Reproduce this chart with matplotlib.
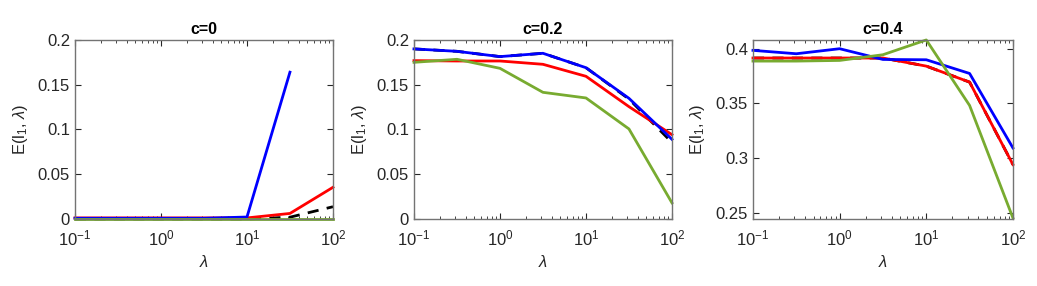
import numpy as np
import matplotlib
matplotlib.use("Agg")
import matplotlib.pyplot as plt
from matplotlib.ticker import LogLocator, FixedLocator, NullFormatter

plt.rcParams['font.family'] = ['Liberation Sans', 'DejaVu Sans']
plt.rcParams['mathtext.fontset'] = 'custom'
plt.rcParams['mathtext.rm'] = 'Liberation Sans'
plt.rcParams['mathtext.it'] = 'Liberation Sans:italic'

lam = [0.1, 0.316, 1, 3.16, 10, 31.6, 100]
titles = ['c=0', 'c=0.2', 'c=0.4']

# c = 0
black_c0 = [0.0, 0.0, 0.0, 0.0, 0.0, 0.002, 0.0137]
red_c0 = [0.0012, 0.0012, 0.0012, 0.0012, 0.0012, 0.0062, 0.0354]
blue_c0 = [0.0008, 0.0008, 0.0008, 0.0008, 0.0022, 0.164, np.nan]
green_c0 = [0.0, 0.0, 0.0, 0.0, 0.0, 0.0, 0.0]

# c = 0.2
black_c02 = [0.190, 0.1873, 0.1814, 0.1851, 0.169, 0.134, 0.0855]
red_c02 = [0.1769, 0.1765, 0.1765, 0.1728, 0.1594, 0.1255, 0.0942]
blue_c02 = [0.190, 0.1873, 0.1814, 0.1851, 0.169, 0.1348, 0.089]
green_c02 = [0.175, 0.1784, 0.1683, 0.1415, 0.1352, 0.1006, 0.018]

# c = 0.4
black_c04 = [0.3915, 0.3915, 0.3915, 0.3915, 0.3841, 0.3695, 0.2942]
red_c04 = [0.3915, 0.3915, 0.3915, 0.3915, 0.3841, 0.3695, 0.2942]
blue_c04 = [0.3985, 0.3954, 0.400, 0.3902, 0.3899, 0.3774, 0.3094]
green_c04 = [0.3887, 0.3887, 0.3893, 0.3945, 0.408, 0.3482, 0.2454]

series = [
    (black_c0, red_c0, blue_c0, green_c0),
    (black_c02, red_c02, blue_c02, green_c02),
    (black_c04, red_c04, blue_c04, green_c04),
]
ylims = [(0, 0.2), (0, 0.2), (0.2445, 0.408)]
yticks = [[0, 0.05, 0.1, 0.15, 0.2], [0, 0.05, 0.1, 0.15, 0.2], [0.25, 0.3, 0.35, 0.4]]
ylabels = [['0', '0.05', '0.1', '0.15', '0.2'], ['0', '0.05', '0.1', '0.15', '0.2'],
           ['0.25', '0.3', '0.35', '0.4']]

axcol = (0.15, 0.15, 0.15)
green = (0.47, 0.67, 0.19)

fig = plt.figure(figsize=(10.37, 2.86), dpi=100)
lefts = [0.0723, 0.3992, 0.7261]
widths = [0.2488, 0.2488, 0.2507]

for i in range(3):
    ax = fig.add_axes([lefts[i], 0.2343, widths[i], 0.626])
    blk, red, blu, grn = series[i]
    ax.plot(lam, blk, color='k', ls='--', lw=2, dashes=(4, 3), clip_on=False)
    ax.plot(lam, red, color='r', lw=2, clip_on=False)
    ax.plot(lam, blu, color='b', lw=2, clip_on=False)
    ax.plot(lam, grn, color=green, lw=2, clip_on=False)
    ax.set_xscale('log')
    ax.set_xlim(0.1, 100)
    ax.set_ylim(*ylims[i])
    ax.set_yticks(yticks[i])
    ax.set_yticklabels(ylabels[i])
    ax.xaxis.set_major_locator(FixedLocator([0.1, 1, 10, 100]))
    ax.xaxis.set_minor_locator(LogLocator(base=10, subs=np.arange(2, 10)))
    ax.xaxis.set_minor_formatter(NullFormatter())
    ax.set_xticklabels(['$10^{-1}$', '$10^{0}$', '$10^{1}$', '$10^{2}$'])
    ax.tick_params(direction='in', top=True, right=True, which='both',
                   colors=axcol, labelsize=12, length=4)
    ax.tick_params(axis='x', which='major', pad=7)
    ax.tick_params(which='minor', length=2.5)
    for sp in ax.spines.values():
        sp.set_color((0.45, 0.45, 0.45))
        sp.set_linewidth(1.0)
    ax.set_title(titles[i], fontsize=11.5, fontweight='bold', pad=4)
    ax.set_xlabel(r'$\lambda$', fontsize=12, color=axcol, labelpad=4)
    ax.set_ylabel(r'E(l$_1$, $\lambda$)', fontsize=12, color=axcol, labelpad=6)

fig.savefig('out.png', dpi=100)
